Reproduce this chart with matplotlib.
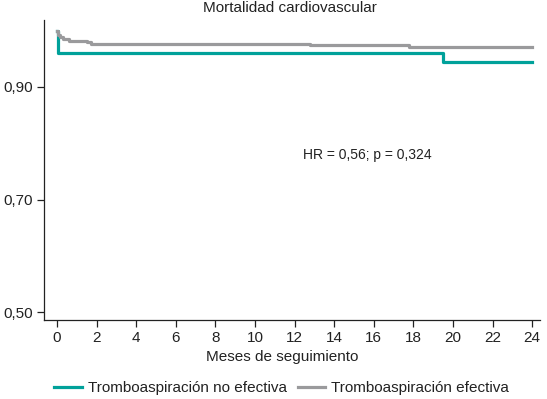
import matplotlib
matplotlib.use('Agg')
import matplotlib.pyplot as plt

plt.rcParams['font.family'] = ['Liberation Sans', 'DejaVu Sans']

# Kaplan-Meier steps (months, survival)
t_no = [0, 0.05, 19.5, 24]
s_no = [1.0, 0.960, 0.944, 0.944]

t_ef = [0, 0.05, 0.15, 0.3, 0.6, 1.5, 1.7, 12.8, 17.8, 24]
s_ef = [1.0, 0.993, 0.988, 0.985, 0.982, 0.979, 0.976, 0.974, 0.971, 0.971]

labels = ['Tromboaspiración no efectiva', 'Tromboaspiración efectiva']
colors = ['#00a19a', '#9a9a9c']
xticks = list(range(0, 25, 2))
yticks = [0.50, 0.70, 0.90]

fig = plt.figure(figsize=(5.47, 3.99), dpi=100)
ax = fig.add_axes([0.0804, 0.198, 0.907, 0.752])

ax.step(t_no, s_no, where='post', color=colors[0], lw=2.3, label=labels[0])
ax.step(t_ef, s_ef, where='post', color=colors[1], lw=2.3, label=labels[1])

ax.set_xlim(-0.66, 24.4)
ax.set_ylim(0.486, 1.019)
ax.set_xticks(xticks)
ax.set_yticks(yticks)
ax.set_yticklabels([('%.2f' % v).replace('.', ',') for v in yticks])
ax.tick_params(labelsize=11, length=5, width=0.9, color='#222222', labelcolor='#222222', pad=3)
for s in ['top', 'right']:
    ax.spines[s].set_visible(False)
for s in ['left', 'bottom']:
    ax.spines[s].set_linewidth(0.9)
    ax.spines[s].set_color('#222222')

ax.set_xlabel('Meses de seguimiento', fontsize=11, color='#222222', va='center')
ax.xaxis.set_label_coords(0.48, -0.123)
fig.text(0.53, 0.98, 'Mortalidad cardiovascular', ha='center', va='center', fontsize=11, color='#222222')
ax.text(15.67, 0.779, 'HR = 0,56; p = 0,324', ha='center', va='center', fontsize=10, color='#222222')

fig.legend(loc='center', bbox_to_anchor=(0.515, 0.027), ncol=2, frameon=False, fontsize=11,
           handlelength=1.8, handletextpad=0.4, columnspacing=0.7, labelcolor='#222222')

fig.savefig('out.png', dpi=100)
